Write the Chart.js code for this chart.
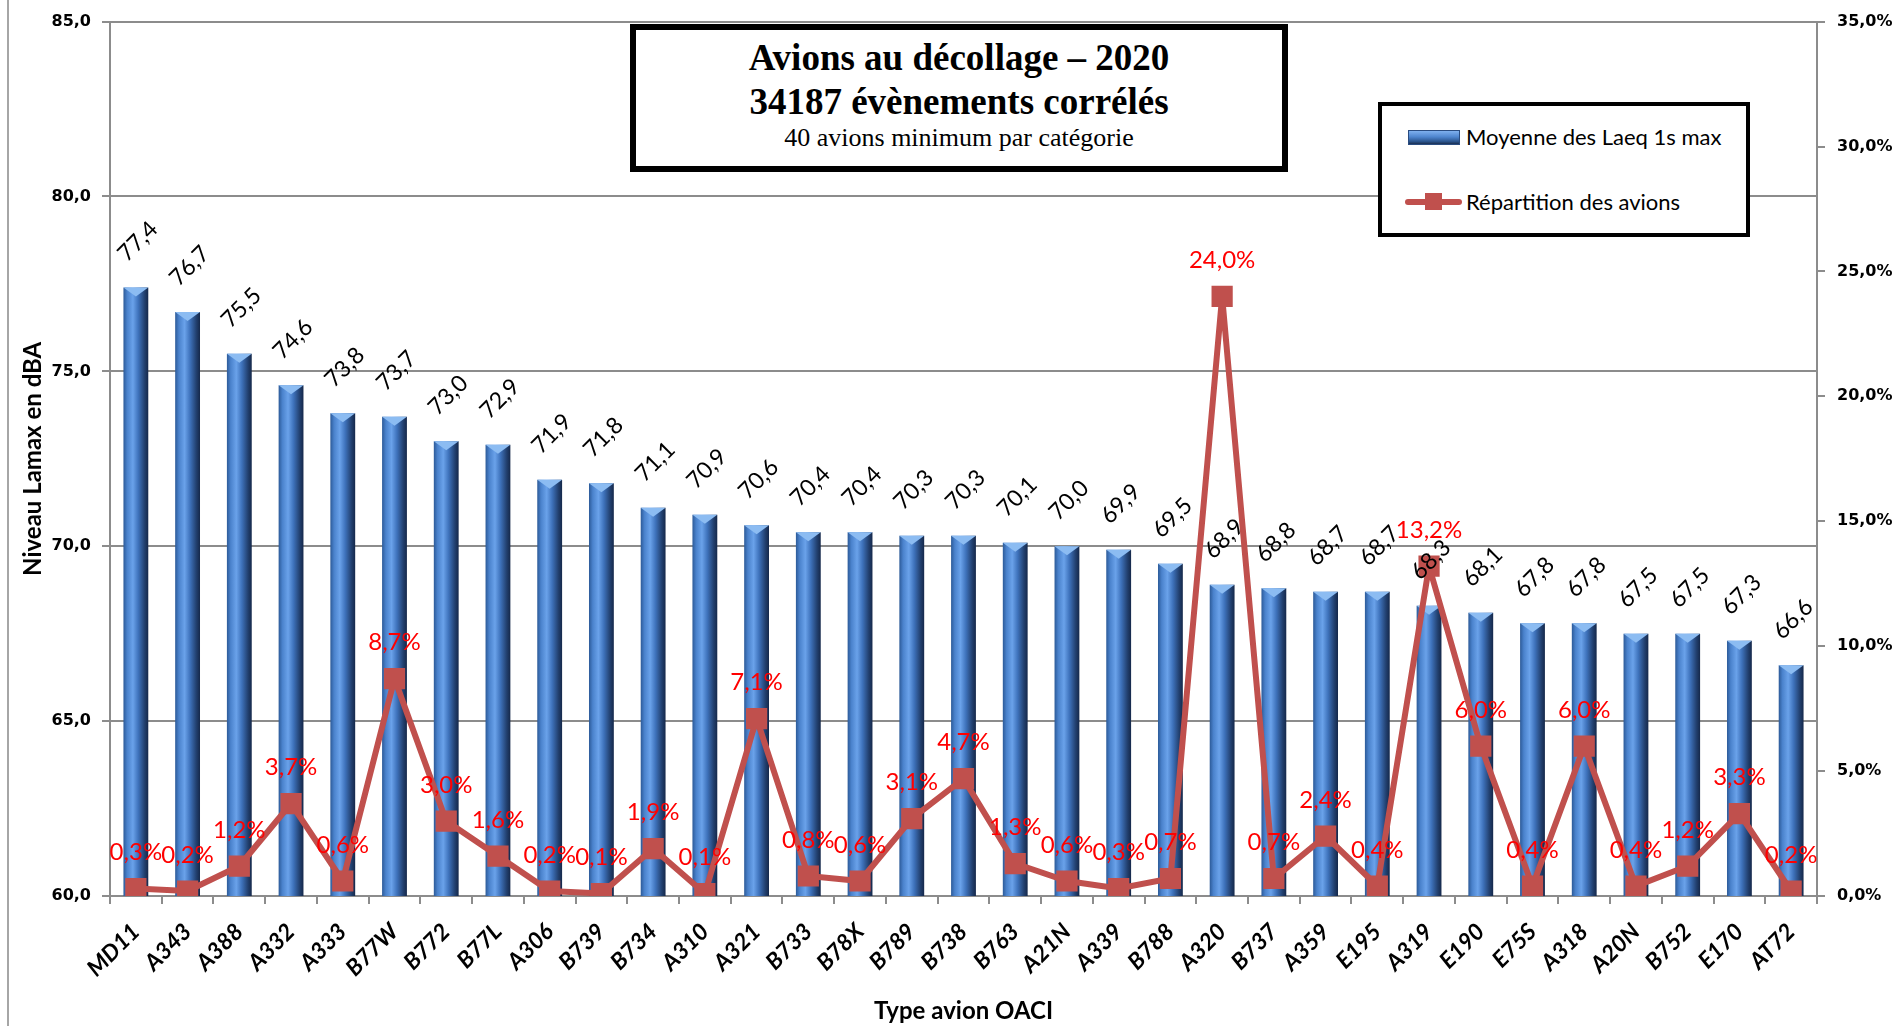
<!DOCTYPE html>
<html>
<head>
<meta charset="utf-8">
<script src="https://cdn.jsdelivr.net/npm/chart.js@4.4.0/dist/chart.umd.min.js"></script>
<style>
  html, body { margin: 0; padding: 0; background: #fff; }
  #wrap { position: relative; width: 1897px; height: 1026px; overflow: hidden; }
  #bord { position: absolute; left: 7px; top: 0; width: 2px; height: 1026px; background: #a6a6a6; }
  #titre {
    position: absolute; left: 630px; top: 24px; width: 646px; height: 136px;
    border: 6px solid #000; background: #fff; color: #000;
    font-family: "Liberation Serif", "Times New Roman", serif; text-align: center;
  }
  #titre div { position: absolute; left: 0; right: 0; white-space: nowrap; }
  #t1 { top: 8px; line-height: 40px; font-size: 37px; font-weight: bold; }
  #t2 { top: 50px; line-height: 44px; font-size: 37px; font-weight: bold; }
  #t3 { top: 94px; line-height: 28px; font-size: 26px; }
  #legende {
    position: absolute; left: 1378px; top: 102px; width: 364px; height: 127px;
    border: 4px solid #000; background: #fff;
    font-family: Lato, "Open Sans", sans-serif; font-size: 22px; color: #000;
  }
  .item { position: absolute; left: 0; right: 0; height: 30px; }
  .item span { position: absolute; left: 84px; top: 0; line-height: 30px; white-space: nowrap; }
  .symBar {
    position: absolute; left: 26px; top: 8px; width: 52px; height: 15px;
    background: linear-gradient(to bottom, #7fb0ee 0%, #4f86cf 45%, #2c568f 80%, #1a2f52 100%);
    border: 1px solid #2a4c80; box-sizing: border-box;
  }
  .symLine { position: absolute; left: 23px; top: 12px; width: 57px; height: 6px; background: #C0504D; border-radius: 3px; }
  .symPt { position: absolute; left: 43px; top: 6px; width: 17px; height: 17px; background: #C0504D; }
</style>
</head>
<body>
<div id="wrap">
  <canvas id="graphique" width="1897" height="1026"></canvas>
  <div id="bord"></div>
  <div id="titre">
    <div id="t1">Avions au décollage – 2020</div>
    <div id="t2">34187 évènements corrélés</div>
    <div id="t3">40 avions minimum par catégorie</div>
  </div>
  <div id="legende"></div>
</div>
<script>
  // Données
  const typesAvion = ["MD11", "A343", "A388", "A332", "A333", "B77W", "B772", "B77L", "A306", "B739", "B734",
    "A310", "A321", "B733", "B78X", "B789", "B738", "B763", "A21N", "A339", "B788", "A320",
    "B737", "A359", "E195", "A319", "E190", "E75S", "A318", "A20N", "B752", "E170", "AT72"];
  const moyenneLaeq = [77.4, 76.7, 75.5, 74.6, 73.8, 73.7, 73.0, 72.9, 71.9, 71.8, 71.1,
    70.9, 70.6, 70.4, 70.4, 70.3, 70.3, 70.1, 70.0, 69.9, 69.5, 68.9,
    68.8, 68.7, 68.7, 68.3, 68.1, 67.8, 67.8, 67.5, 67.5, 67.3, 66.6];
  const repartition = [0.3, 0.2, 1.2, 3.7, 0.6, 8.7, 3.0, 1.6, 0.2, 0.1, 1.9,
    0.1, 7.1, 0.8, 0.6, 3.1, 4.7, 1.3, 0.6, 0.3, 0.7, 24.0,
    0.7, 2.4, 0.4, 13.2, 6.0, 0.4, 6.0, 0.4, 1.2, 3.3, 0.2];
  const ticksGauche = [60, 65, 70, 75, 80, 85];
  const ticksDroite = [0, 5, 10, 15, 20, 25, 30, 35];
  const nomsSeries = ["Moyenne des Laeq 1s max", "Répartition des avions"];

  const rouge = "#C0504D";
  const largeurBarre = 0.48;
  const virgule = (v, d) => v.toFixed(d).replace(".", ",");

  // dégradé "cylindre" des barres
  function degradeBarre(c) {
    const chart = c.chart;
    const xs = chart.scales.x;
    if (!chart.chartArea || !xs || c.dataIndex === undefined) return "#4a7ebb";
    const cx = xs.getPixelForValue(c.dataIndex);
    const demi = (xs.width / typesAvion.length) * largeurBarre / 2;
    const g = chart.ctx.createLinearGradient(cx - demi, 0, cx + demi, 0);
    g.addColorStop(0, "#2c5a98");
    g.addColorStop(0.15, "#4a82cc");
    g.addColorStop(0.38, "#6aa2ea");
    g.addColorStop(0.6, "#3e72bb");
    g.addColorStop(0.85, "#22406f");
    g.addColorStop(1, "#15284a");
    return g;
  }

  // biseau en haut des barres
  const biseau = {
    id: "biseau",
    afterDatasetDraw(chart, args) {
      if (args.index !== 0) return;
      const ctx = chart.ctx;
      ctx.save();
      args.meta.data.forEach((b) => {
        const l = b.x - b.width / 2, r = b.x + b.width / 2;
        ctx.fillStyle = "#8cbcf2";
        ctx.beginPath();
        ctx.moveTo(l, b.y);
        ctx.lineTo(r, b.y);
        ctx.lineTo(b.x, b.y + 9);
        ctx.closePath();
        ctx.fill();
        ctx.fillStyle = "rgba(20,40,80,0.45)";
        ctx.beginPath();
        ctx.moveTo(l, b.base);
        ctx.lineTo(r, b.base);
        ctx.lineTo(b.x, b.base - 8);
        ctx.closePath();
        ctx.fill();
      });
      ctx.restore();
    },
  };

  // étiquettes de valeurs
  const etiquettes = {
    id: "etiquettes",
    afterDatasetsDraw(chart) {
      const ctx = chart.ctx;
      ctx.save();
      ctx.textAlign = "center";
      ctx.textBaseline = "middle";
      ctx.font = "23px Lato";
      ctx.fillStyle = "#000";
      chart.getDatasetMeta(0).data.forEach((b, i) => {
        ctx.save();
        ctx.translate(b.x + 2, b.y - 46);
        ctx.rotate(-Math.PI / 4);
        ctx.fillText(virgule(moyenneLaeq[i], 1), 0, 0);
        ctx.restore();
      });
      ctx.font = "24px Lato";
      ctx.fillStyle = "#FF0000";
      chart.getDatasetMeta(1).data.forEach((p, i) => {
        ctx.fillText(virgule(repartition[i], 1) + "%", p.x, p.y - 36);
      });
      ctx.restore();
    },
  };

  const gris = "#8c8c8c";
  const policeAxe = { family: "DejaVu Sans", size: 16, weight: "bold" };

  const chart = new Chart(document.getElementById("graphique"), {
    data: {
      labels: typesAvion,
      datasets: [
        {
          type: "bar",
          label: nomsSeries[0],
          data: moyenneLaeq,
          yAxisID: "y",
          order: 1,
          backgroundColor: degradeBarre,
          borderWidth: 0,
          barPercentage: largeurBarre,
          categoryPercentage: 1,
        },
        {
          type: "line",
          label: nomsSeries[1],
          data: repartition,
          yAxisID: "y2",
          order: 0,
          borderColor: rouge,
          borderWidth: 6,
          tension: 0,
          pointStyle: "rect",
          pointRadius: 15,
          pointBackgroundColor: rouge,
          pointBorderColor: rouge,
          pointBorderWidth: 0,
        },
      ],
    },
    options: {
      responsive: false,
      animation: false,
      devicePixelRatio: 1,
      layout: { padding: { top: 19, left: 0, right: 0, bottom: 0 } },
      plugins: { legend: { display: false }, tooltip: { enabled: false } },
      scales: {
        x: {
          afterFit: (s) => { s.height = 130; },
          grid: { drawOnChartArea: false, color: gris, lineWidth: 2, tickLength: 8 },
          border: { color: gris, width: 2 },
          ticks: {
            color: "#000", maxRotation: 45, minRotation: 45, padding: 14,
            font: { family: "Lato", size: 23, weight: "bold", style: "italic" },
          },
          title: {
            display: true, text: "Type avion OACI", color: "#000",
            font: { family: "Lato", size: 24, weight: "bold" }, padding: { top: 8, bottom: 0 },
          },
        },
        y: {
          position: "left",
          min: 60, max: 85,
          afterFit: (s) => { s.width = 110; },
          afterBuildTicks: (s) => { s.ticks = ticksGauche.map((v) => ({ value: v })); },
          grid: { color: gris, lineWidth: 2, tickLength: 8 },
          border: { color: gris, width: 2 },
          ticks: { color: "#000", padding: 11, font: policeAxe, callback: (v) => virgule(v, 1) },
          title: {
            display: true, text: "Niveau Lamax en dBA", color: "#000",
            font: { family: "Lato", size: 24, weight: "bold" }, padding: { top: 19, bottom: 0 },
          },
        },
        y2: {
          position: "right",
          min: 0, max: 35,
          afterFit: (s) => { s.width = 80; },
          afterBuildTicks: (s) => { s.ticks = ticksDroite.map((v) => ({ value: v })); },
          grid: { drawOnChartArea: false, color: gris, lineWidth: 2, tickLength: 8 },
          border: { color: gris, width: 2 },
          ticks: { color: "#000", padding: 12, font: policeAxe, callback: (v) => virgule(v, 1) + "%" },
        },
      },
    },
    plugins: [biseau, etiquettes],
  });

  // légende encadrée
  const legende = document.getElementById("legende");
  chart.data.datasets.forEach((ds, i) => {
    const item = document.createElement("div");
    item.className = "item";
    item.style.top = i === 0 ? "16px" : "81px";
    item.innerHTML = (i === 0
      ? '<div class="symBar"></div>'
      : '<div class="symLine"></div><div class="symPt"></div>') + "<span>" + ds.label + "</span>";
    legende.appendChild(item);
  });
</script>
</body>
</html>
